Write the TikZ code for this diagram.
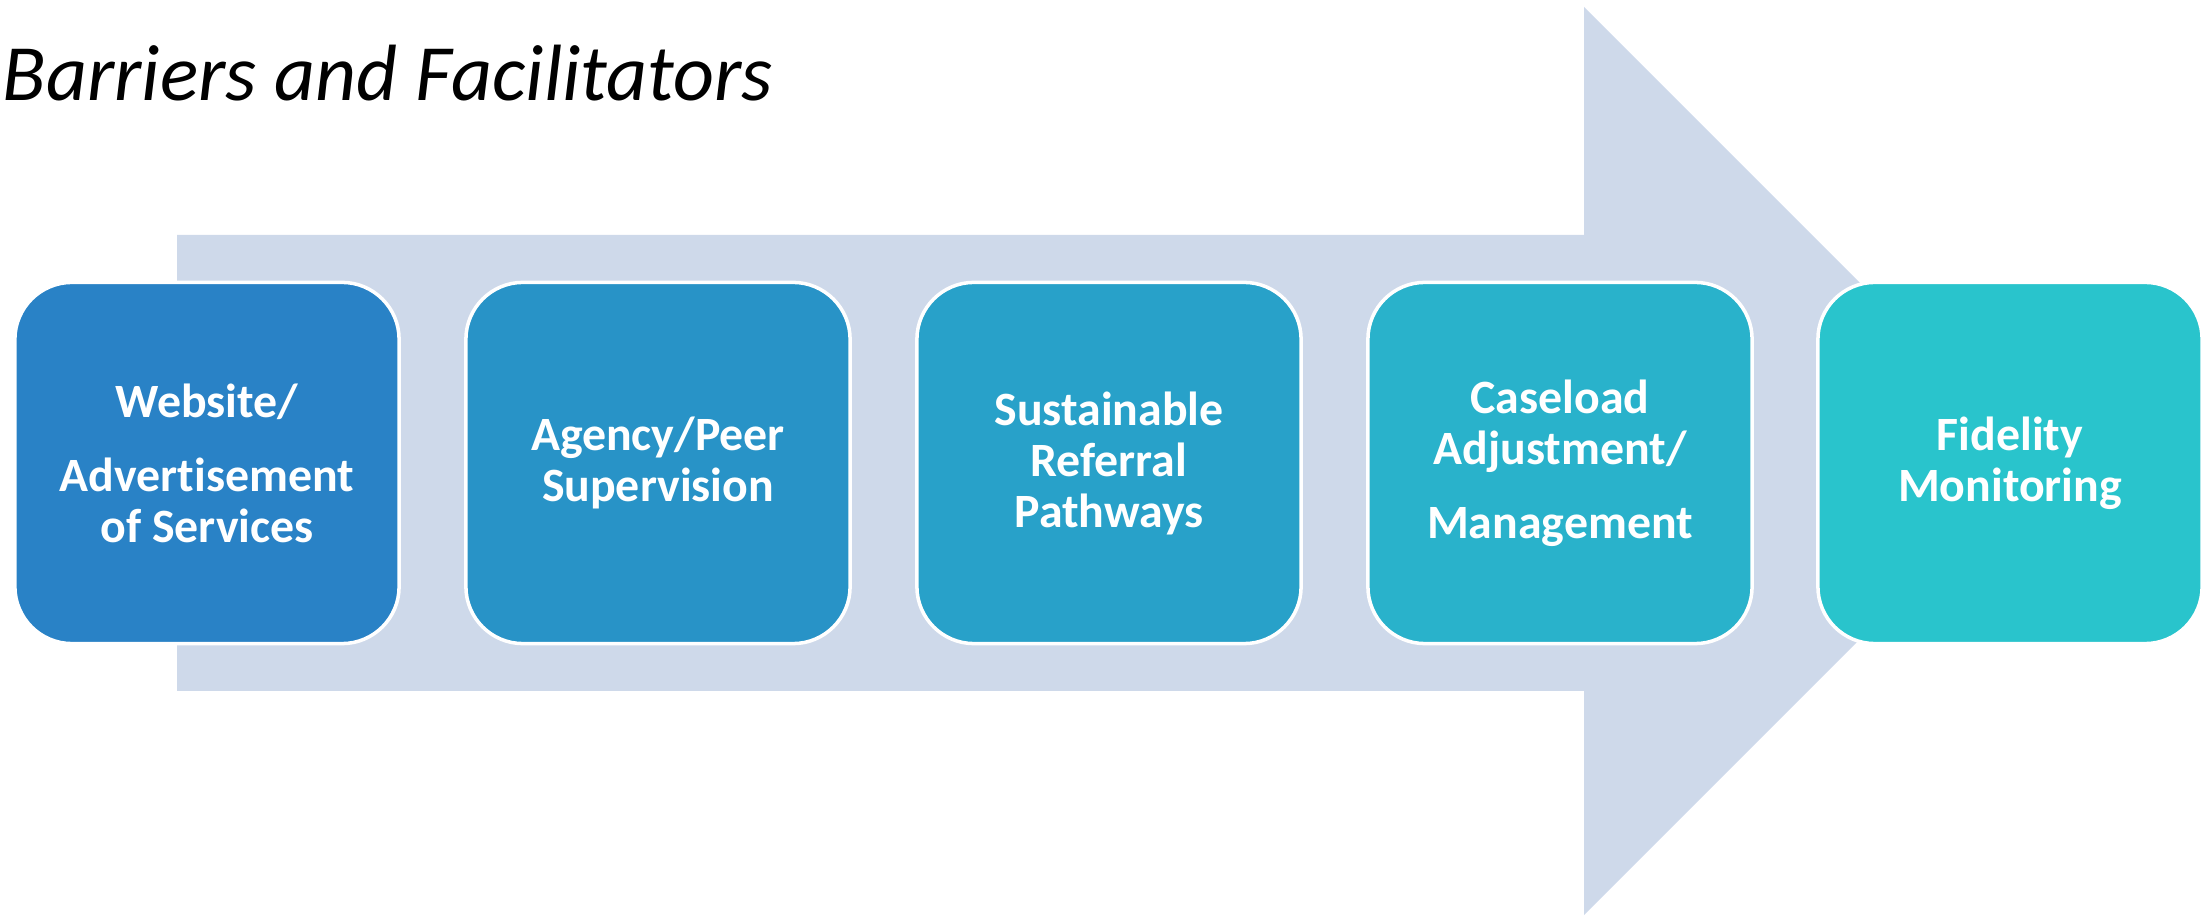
\documentclass[tikz,border=0pt]{standalone}
\usepackage{fontspec}
\setmainfont{Carlito}[Ligatures=NoCommon]
\usepackage{xcolor}
\usepackage{tikz}

\definecolor{arrowfill}{HTML}{CED9EA}
\definecolor{stepone}{HTML}{2982C6}
\definecolor{steptwo}{HTML}{2893C7}
\definecolor{stepthree}{HTML}{28A1C9}
\definecolor{stepfour}{HTML}{29B2CB}
\definecolor{stepfive}{HTML}{29C4CC}

\tikzset{
    stagebox/.style={draw=white, line width=1pt, rounded corners=0.57cm,
        minimum width=3.84cm, minimum height=3.61cm, align=center,
        text=white, font=\fontsize{13.6}{14.5}\selectfont\bfseries},
}

\begin{document}
\begin{tikzpicture}[x=0.01cm,y=0.01cm]
    \useasboundingbox (0,0) rectangle (2209,915);
    % big background arrow
    \fill[arrowfill] (177,680) -- (1584,680) -- (1584,908) -- (2038,454) --
    (1584,0) -- (1584,224) -- (177,224) -- cycle;
    \node[anchor=base west, inner sep=0, font=\fontsize{22.7}{27}\selectfont\itshape]
        (title) at (2,814) {Barriers and Facilitators};
    % the five stages
    \node[stagebox, fill=stepone] (website) at (207,452)
        {Website/\\[6.5pt] Advertisement\\ of Services};
    \node[stagebox, fill=steptwo] (supervision) at (658,452)
        {Agency/Peer\\ Supervision};
    \node[stagebox, fill=stepthree] (referral) at (1109,452)
        {Sustainable\\ Referral\\ Pathways};
    \node[stagebox, fill=stepfour] (caseload) at (1560,452)
        {Caseload\\ Adjustment/\\[6.5pt] Management};
    \node[stagebox, fill=stepfive] (fidelity) at (2010,452)
        {Fidelity\\ Monitoring};
\end{tikzpicture}
\end{document}
